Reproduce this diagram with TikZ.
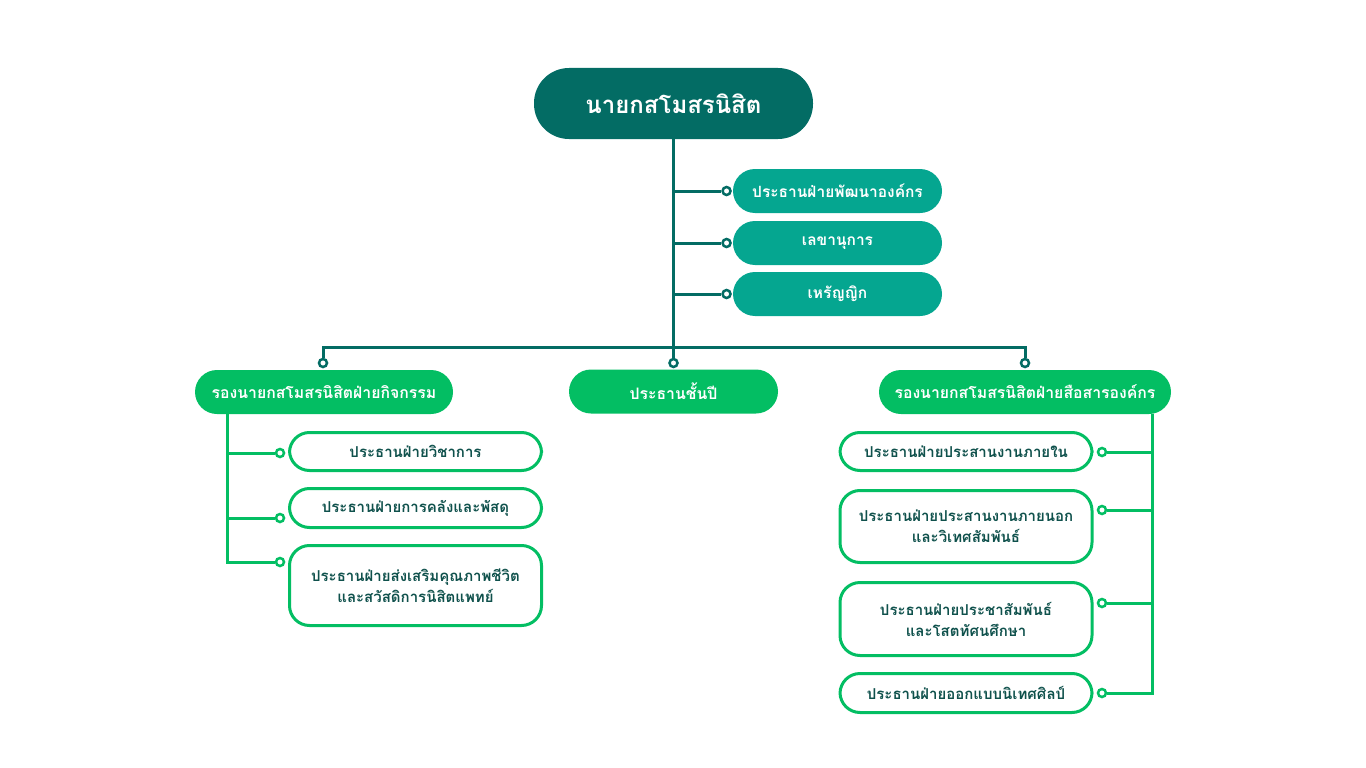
\documentclass[tikz,border=0pt]{standalone}
\usepackage{fontspec}
\usepackage{tikz}
\newfontfamily\thaifont[Script=Thai]{Loma}
\usetikzlibrary{positioning}
\definecolor{deepteal}{HTML}{036C64}
\definecolor{midteal}{HTML}{05A690}
\definecolor{leafgreen}{HTML}{03BE63}
\definecolor{inkteal}{HTML}{0F514C}

\begin{document}
\begin{tikzpicture}[x=1pt,y=-1pt, font=\thaifont\bfseries\fontsize{15}{21}\selectfont,
  head node/.style={fill=deepteal,text=white,rounded corners=35pt,minimum width=279pt,minimum height=71pt,font=\thaifont\bfseries\fontsize{24}{28}\selectfont},
  staff node/.style={fill=midteal,text=white,rounded corners=22pt,minimum width=209pt,minimum height=44pt,font=\thaifont\bfseries\fontsize{15.5}{21}\selectfont},
  vice node/.style={fill=leafgreen,text=white,rounded corners=22pt,minimum height=44pt,font=\thaifont\bfseries\fontsize{15.8}{21}\selectfont},
  unit node/.style={draw=leafgreen,line width=3pt,fill=white,text=inkteal,rounded corners=20pt,minimum width=252pt,align=center},
  ring/.style={circle,draw=#1,fill=white,line width=2.5pt,minimum size=8pt,inner sep=0pt},
  ring/.default=deepteal,
  trunk/.style={draw=deepteal,line width=3pt},
  twig/.style={draw=leafgreen,line width=3pt}]
\useasboundingbox (0,0) rectangle (1366,768);
\node[head node] (pres) at (673.5,103.5) {นายกสโมสรนิสิต};
\node[staff node] (dev) at (837.5,191) {ประธานฝ่ายพัฒนาองค์กร};
\node[staff node] (sec) at (837.5,243) {เลขานุการ};
\node[staff node] (treas) at (837.5,294) {เหรัญญิก};
\node[ring, left=1pt of dev] (rd) {};
\node[ring, left=1pt of sec] (rs) {};
\node[ring, left=1pt of treas] (rt) {};
\node[vice node, minimum width=258pt] (vpact) at (324,392) {รองนายกสโมสรนิสิตฝ่ายกิจกรรม};
\node[vice node, minimum width=209pt] (cls) at (673.5,391.5) {ประธานชั้นปี};
\node[vice node, minimum width=292pt] (vpcom) at (1025,392) {รองนายกสโมสรนิสิตฝ่ายสือสารองค์กร};
\node[ring] (rl) at (323,363) {};
\node[ring] (rc) at (673.5,363) {};
\node[ring] (rr) at (1025,363) {};
\coordinate (bar) at (673.5,347);
\draw[trunk] (pres) -- (rc);
\draw[trunk] (rl) -- (rl |- bar) -- (rr |- bar) -- (rr);
\draw[trunk] (pres |- rd) -- (rd);
\draw[trunk] (pres |- rs) -- (rs);
\draw[trunk] (pres |- rt) -- (rt);

\node[unit node, minimum height=38pt] (acad) at (415.5,451.5) {ประธานฝ่ายวิชาการ};
\node[unit node, minimum height=39pt] (fin) at (415.5,508) {ประธานฝ่ายการคลังและพัสดุ};
\node[unit node, minimum height=80pt] (life) at (415.5,585.5) {ประธานฝ่ายส่งเสริมคุณภาพชีวิต\\และสวัสดิการนิสิตแพทย์};
\node[ring=leafgreen] (l1) at (280,453) {};
\node[ring=leafgreen] (l2) at (280,518) {};
\node[ring=leafgreen] (l3) at (280,562) {};
\coordinate (lt) at (227,414);
\draw[twig] (lt) |- (l3);
\draw[twig] (lt |- l1) -- (l1);
\draw[twig] (lt |- l2) -- (l2);

\node[unit node, minimum height=38pt] (intl) at (966,451.5) {ประธานฝ่ายประสานงานภายใน};
\node[unit node, minimum height=72pt] (extl) at (966,526.5) {ประธานฝ่ายประสานงานภายนอก\\และวิเทศสัมพันธ์};
\node[unit node, minimum height=73pt] (pr) at (966,619) {ประธานฝ่ายประชาสัมพันธ์\\และโสตทัศนศึกษา};
\node[unit node, minimum height=39pt] (art) at (966,693) {ประธานฝ่ายออกแบบนิเทศศิลป์};
\node[ring=leafgreen] (q1) at (1102,452) {};
\node[ring=leafgreen] (q2) at (1102,510) {};
\node[ring=leafgreen] (q3) at (1102,603) {};
\node[ring=leafgreen] (q4) at (1102,693) {};
\coordinate (rtop) at (1152,414);
\draw[twig] (rtop) |- (q4);
\draw[twig] (rtop |- q1) -- (q1);
\draw[twig] (rtop |- q2) -- (q2);
\draw[twig] (rtop |- q3) -- (q3);
\end{tikzpicture}
\end{document}
